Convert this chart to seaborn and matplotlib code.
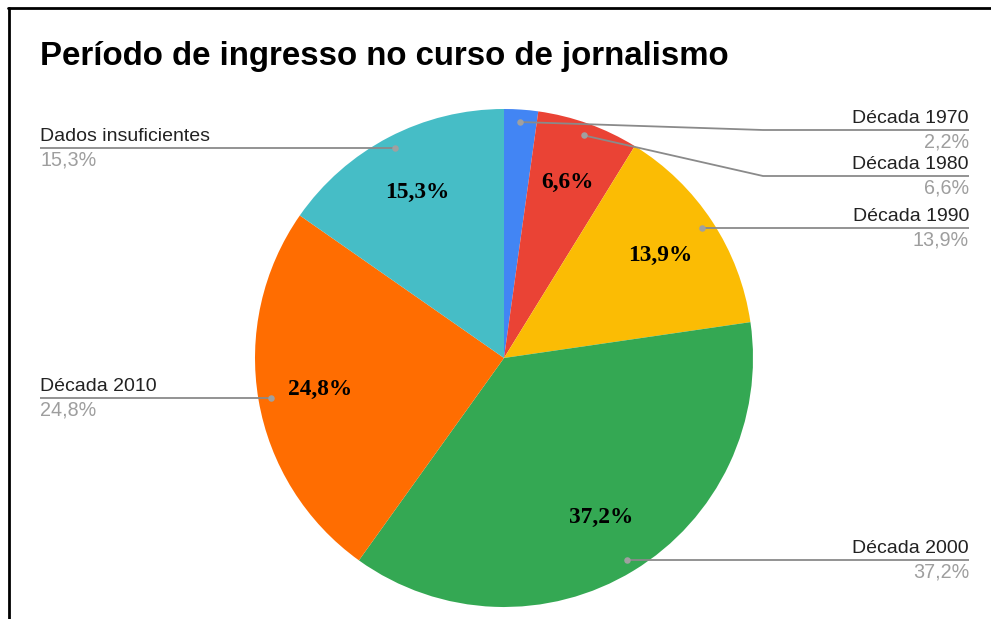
import numpy as np
import matplotlib
matplotlib.use("Agg")
import matplotlib.pyplot as plt
import seaborn as sns

# Data
categories = ["Década 1970", "Década 1980", "Década 1990", "Década 2000",
              "Década 2010", "Dados insuficientes"]
shares = [2.2, 6.6, 13.9, 37.2, 24.8, 15.3]
colors = ["#4285F4", "#EA4335", "#FBBC04", "#34A853", "#FF6D01", "#46BDC6"]
title = "Período de ingresso no curso de jornalismo"

sns.set_theme(style="white")
plt.rcParams["font.family"] = ["Liberation Sans", "DejaVu Sans"]

W, H = 991, 619
fig = plt.figure(figsize=(W / 100, H / 100), dpi=100)
ax = fig.add_axes([0, 0, 1, 1])


def fy(y):
    """Pixel row (top-down) to data y."""
    return H - y


def fmt(v):
    return f"{v:.1f}".replace(".", ",") + "%"


cx, cy, R = 504, 358, 249

wedges, _, autotexts = ax.pie(
    shares, colors=colors, startangle=90, counterclock=False,
    center=(cx, fy(cy)), radius=R, pctdistance=0.75,
    autopct=lambda p: fmt(p) if p >= 5 else "",
    wedgeprops=dict(linewidth=0),
    textprops=dict(family=["Liberation Serif"], fontweight="bold",
                   fontsize=16.8, color="black"),
)

ax.set_xlim(0, W)
ax.set_ylim(0, H)
ax.set_aspect("equal")
ax.axis("off")

# Leader dots inside each wedge and external labels
line_col = "#8a8a8a"
dots = []
for w in wedges:
    ang = np.deg2rad((w.theta1 + w.theta2) / 2)
    dx = cx + 0.95 * R * np.cos(ang)
    dy = cy - 0.95 * R * np.sin(ang)
    dots.append((dx, dy))

right = sorted([i for i, (x, y) in enumerate(dots) if x >= cx], key=lambda i: dots[i][1])
left = sorted([i for i, (x, y) in enumerate(dots) if x < cx], key=lambda i: dots[i][1])

gap, top_min = 46, 130


def place(order):
    ys, prev = {}, -1e9
    for i in order:
        y = max(dots[i][1], prev + gap, top_min)
        ys[i] = y
        prev = y
    return ys


label_y = {**place(right), **place(left)}

for i, (dx, dy) in enumerate(dots):
    ly = label_y[i]
    if i in right:
        xend, bend, ha = 969, 763, "right"
    else:
        xend, bend, ha = 40, None, "left"
    if abs(ly - dy) > 0.5 and bend is not None:
        xs = [dx, bend, xend]
        ys = [fy(dy), fy(ly), fy(ly)]
    else:
        xs = [dx, xend]
        ys = [fy(dy), fy(ly)]
    ax.plot(xs, ys, color=line_col, lw=1.3, solid_capstyle="butt", zorder=3)
    ax.scatter([dx], [fy(dy)], s=22, color="#a0a0a0", zorder=4, linewidths=0)
    ax.text(xend, fy(ly - 3), categories[i], ha=ha, va="bottom",
            fontsize=14, color="#222222")
    ax.text(xend, fy(ly + 2.5), fmt(shares[i]), ha=ha, va="top",
            fontsize=14.2, color="#9e9e9e")

# Title
fig.text(40 / W, 1 - 56 / H, title, ha="left", va="center",
         fontsize=23.8, fontweight="bold", color="#000000")

# Frame lines on top and left edges
fig.add_artist(plt.Line2D([8 / W, 1], [1 - 8 / H, 1 - 8 / H],
                          transform=fig.transFigure, color="black", lw=2))
fig.add_artist(plt.Line2D([9 / W, 9 / W], [0, 1 - 8 / H],
                          transform=fig.transFigure, color="black", lw=2))

fig.savefig("out.png", dpi=100, facecolor="white")
